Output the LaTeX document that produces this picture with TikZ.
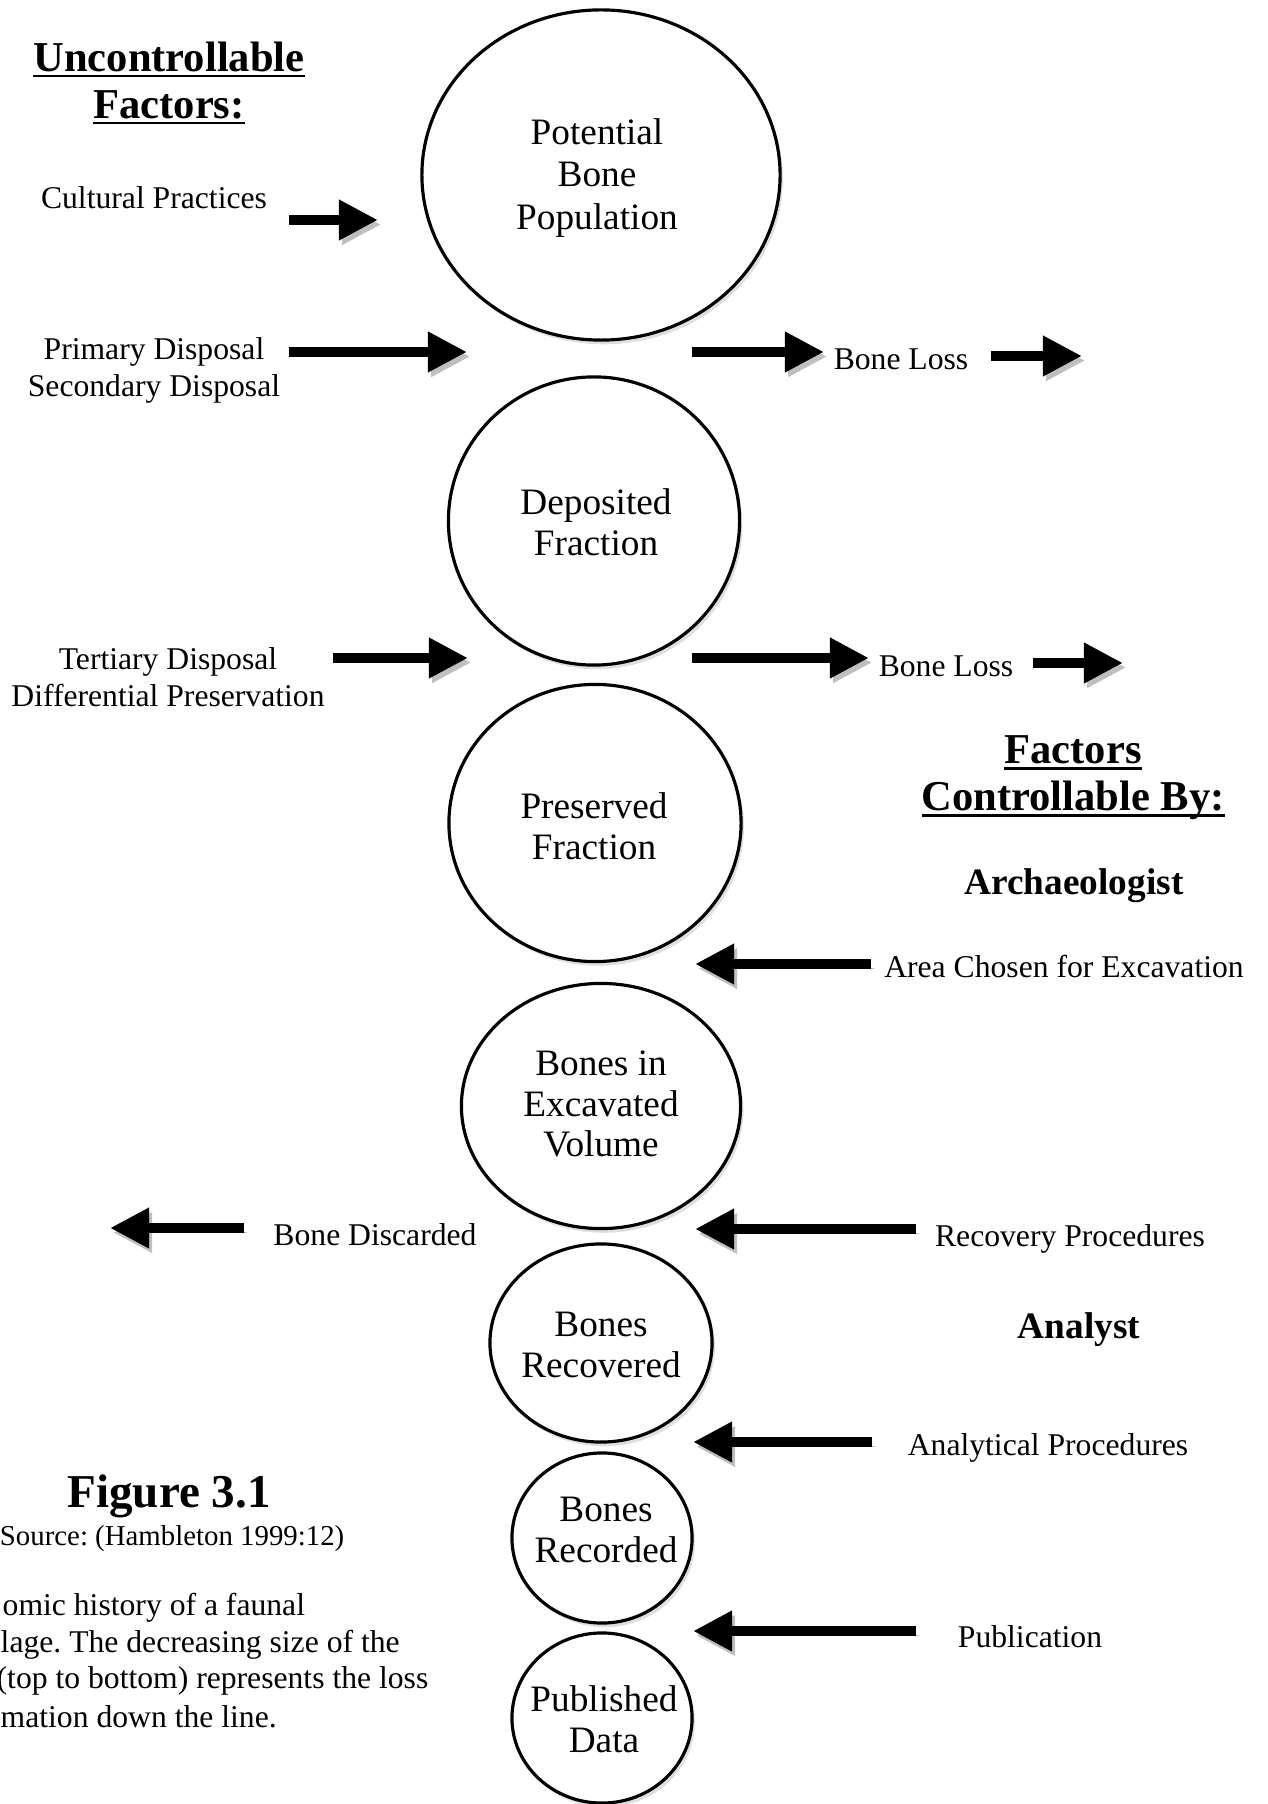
\documentclass[tikz,border=0pt]{standalone}
\usepackage{fontspec}
\setmainfont{Liberation Serif}
\usetikzlibrary{shapes.geometric,arrows.meta,shadows}
\newcommand{\ulhead}[1]{\setbox0\hbox{#1}\rlap{\rule[-1.8pt]{\wd0}{0.8pt}}\box0}
\frenchspacing

\tikzset{
  bubble/.style={ellipse, draw, line width=0.9pt, fill=white, inner sep=0pt,
    drop shadow={shadow xshift=0.8pt, shadow yshift=-1.2pt, opacity=0.25}},
  bubbletext/.style={font=\fontsize{10.6}{11.6}\selectfont, align=center, inner sep=0pt},
  factor/.style={font=\fontsize{9}{10.5}\selectfont, align=center, inner sep=0pt},
  heading/.style={font=\fontsize{12.1}{13.4}\selectfont\bfseries, align=center, inner sep=0pt},
  who/.style={font=\fontsize{10.6}{12}\selectfont\bfseries, inner sep=0pt},
  flow/.style={line width=2.85pt, -{Triangle[length=0.39cm,width=0.38cm]},
    preaction={draw=black!25, -{Triangle[length=0.39cm,width=0.38cm]},
      transform canvas={xshift=0.9pt,yshift=-1.3pt}}},
}

\begin{document}
\begin{tikzpicture}[x=0.01cm, y=-0.01cm]
\useasboundingbox (0,0) rectangle (1267,1804);

% the bone population, shrinking from top to bottom
\node[bubble, minimum width=3.58cm, minimum height=3.30cm] (pop) at (601,175) {};
\node[bubble, minimum width=2.91cm, minimum height=2.88cm] (dep) at (594,521) {};
\node[bubble, minimum width=2.92cm, minimum height=2.77cm] (pres) at (595,823) {};
\node[bubble, minimum width=2.79cm, minimum height=2.45cm] (exc) at (601,1106) {};
\node[bubble, minimum width=2.22cm, minimum height=1.98cm] (rec) at (601,1343) {};
\node[bubble, minimum width=1.80cm, minimum height=1.70cm] (rcd) at (602,1538) {};
\node[bubble, minimum width=1.80cm, minimum height=1.70cm] (pub) at (602,1718) {};

\node[bubbletext, font=\fontsize{10.6}{12.2}\selectfont] (popt) at (597,178) {Potential\\Bone\\Population};
\node[bubbletext] (dept) at (596,522) {Deposited\\Fraction};
\node[bubbletext] (prest) at (594,826) {Preserved\\Fraction};
\node[bubbletext] (exct) at (601,1104) {Bones in\\Excavated\\Volume};
\node[bubbletext] (rect) at (601,1345) {Bones\\Recovered};
\node[bubbletext] (rcdt) at (606,1530) {Bones\\Recorded};
\node[bubbletext] (pubt) at (604,1719) {Published\\Data};

% headings
\node[heading] (unc) at (169,83) {\ulhead{Uncontrollable}\\\ulhead{Factors:}};
\node[heading] (ctl) at (1073,778) {\ulhead{Factors}\\\ulhead{Controllable By:}};
\node[who] (arch) at (1074,886) {Archaeologist};
\node[who] (ana) at (1079,1330) {Analyst};

% factors
\node[factor] (cult) at (154,198) {Cultural Practices};
\node[factor] (disp) at (154,370) {Primary Disposal\\Secondary Disposal};
\node[factor] (tert) at (168,677) {Tertiary Disposal\\Differential Preservation};
\node[factor] (loss1) at (901,359) {Bone Loss};
\node[factor] (loss2) at (946,666) {Bone Loss};
\node[factor] (area) at (1064,967) {Area Chosen for Excavation};
\node[factor] (recov) at (1070,1239) {Recovery Procedures};
\node[factor] (disc) at (375,1235) {Bone Discarded};
\node[factor] (anal) at (1048,1448) {Analytical Procedures};
\node[factor] (publ) at (1030,1637) {Publication};

% caption
\node[font=\fontsize{13.4}{15}\selectfont\bfseries, inner sep=0pt] (fig) at (169,1496) {Figure 3.1};
\node[factor, font=\fontsize{8.2}{10}\selectfont, anchor=east] (src) at (345,1539) {Source: (Hambleton 1999:12)};
\node[factor, anchor=west] (cap1) at (2,1608) {omic history of a faunal};
\node[factor, anchor=west] (cap2) at (0,1645) {lage. The decreasing size of the};
\node[factor, anchor=west] (cap3) at (-4,1681) {(top to bottom) represents the loss};
\node[factor, anchor=west] (cap4) at (0,1717) {mation down the line.};

% arrow ends
\coordinate (cultS) at (289,220);  \coordinate (cultE) at (378,220);
\coordinate (dispS) at (289,352);  \coordinate (dispE) at (467,352);
\coordinate (lossAS) at (692,352); \coordinate (lossAE) at (824,352);
\coordinate (lossBS) at (991,356); \coordinate (lossBE) at (1082,356);
\coordinate (tertS) at (333,658);  \coordinate (tertE) at (468,658);
\coordinate (lossCS) at (692,658); \coordinate (lossCE) at (869,658);
\coordinate (lossDS) at (1033,663); \coordinate (lossDE) at (1123,663);
\coordinate (areaS) at (871,964);  \coordinate (areaE) at (695,964);
\coordinate (recS) at (916,1229);  \coordinate (recE) at (695,1229);
\coordinate (discS) at (244,1228); \coordinate (discE) at (110,1228);
\coordinate (anaS) at (872,1442);  \coordinate (anaE) at (693,1442);
\coordinate (pubS) at (916,1631);  \coordinate (pubE) at (693,1631);

\draw[flow] (cultS) -- (cultE);
\draw[flow] (dispS) -- (dispE);
\draw[flow] (lossAS) -- (lossAE);
\draw[flow] (lossBS) -- (lossBE);
\draw[flow] (tertS) -- (tertE);
\draw[flow] (lossCS) -- (lossCE);
\draw[flow] (lossDS) -- (lossDE);
\draw[flow] (areaS) -- (areaE);
\draw[flow] (recS) -- (recE);
\draw[flow] (discS) -- (discE);
\draw[flow] (anaS) -- (anaE);
\draw[flow] (pubS) -- (pubE);
\end{tikzpicture}
\end{document}
